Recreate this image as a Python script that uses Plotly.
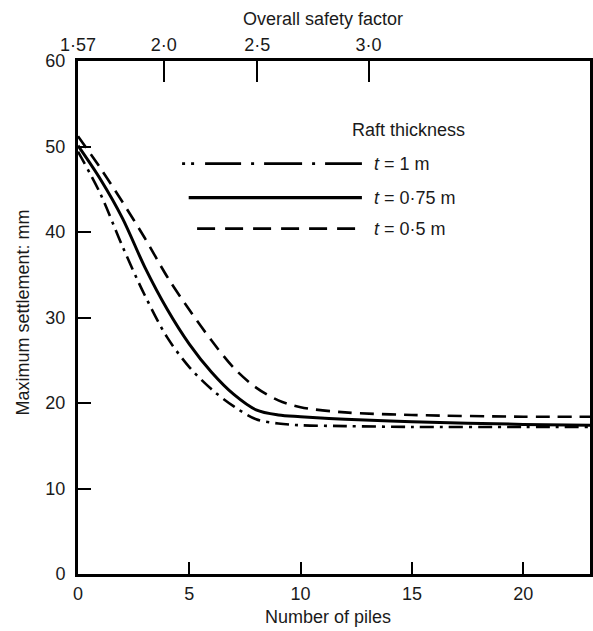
import plotly.graph_objects as go

# ---- data ----
piles = [0, 1, 2, 3, 4, 5, 6, 7, 8, 9, 10, 12, 15, 20, 23]

settle_t100 = [49.4, 44.5, 38.3, 32.6, 27.7, 24.2, 21.6, 19.6, 18.1, 17.6, 17.4, 17.3, 17.2, 17.2, 17.2]
settle_t075 = [50.1, 46.2, 41.6, 35.9, 31.0, 26.9, 23.6, 21.0, 19.2, 18.6, 18.4, 18.1, 17.8, 17.5, 17.4]
settle_t050 = [51.2, 47.5, 43.5, 39.3, 34.8, 30.9, 27.3, 24.1, 21.8, 20.3, 19.5, 18.9, 18.6, 18.4, 18.4]

series_labels = ["<i>t</i> = 1 m", "<i>t</i> = 0·75 m", "<i>t</i> = 0·5 m"]

x_ticks = [0, 5, 10, 15, 20]
y_ticks = [0, 10, 20, 30, 40, 50, 60]
sf_tick_pos = [0, 3.85, 8.05, 13.05]
sf_tick_text = ["1·57", "2·0", "2·5", "3·0"]

FONT = "Liberation Sans, Arial, sans-serif"
INK = "#1a1a1a"

fig = go.Figure()

curve_styles = [
    dict(dash="14px,6px,3px,6px", width=2.6),
    dict(dash="solid", width=3.0),
    dict(dash="14px,8px", width=2.6),
]
for ys, st in zip([settle_t100, settle_t075, settle_t050], curve_styles):
    fig.add_trace(go.Scatter(
        x=piles, y=ys, mode="lines",
        line=dict(color="black", width=st["width"], dash=st["dash"], shape="spline", smoothing=0.9),
        showlegend=False, hoverinfo="skip",
    ))

# invisible trace to activate the top axis
fig.add_trace(go.Scatter(x=piles, y=settle_t075, xaxis="x2", mode="lines",
                         line=dict(color="rgba(0,0,0,0)"), showlegend=False, hoverinfo="skip"))

axis_common = dict(showgrid=False, zeroline=False, showline=True, linecolor="black",
                   linewidth=3, ticks="inside", tickcolor="black", tickwidth=2,
                   automargin=False,
                   tickfont=dict(family=FONT, size=18, color=INK))

fig.update_layout(
    width=593, height=631,
    margin=dict(l=77.5, r=3, t=60.5, b=57),
    plot_bgcolor="white", paper_bgcolor="white",
    showlegend=False,
    xaxis=dict(range=[0, 23], tickvals=x_ticks, ticklen=12, ticklabelstandoff=1, **axis_common),
    xaxis2=dict(range=[0, 23], overlaying="x", side="top", anchor="y",
                tickvals=sf_tick_pos, ticktext=sf_tick_text, ticklen=21, **axis_common),
    yaxis=dict(range=[0, 60], tickvals=y_ticks, ticklen=13, mirror=True,
               ticklabelstandoff=6, **axis_common),
)

# ---- titles ----
ann = [
    dict(text="Number of piles", x=0.488, y=-0.084, xref="paper", yref="paper",
         xanchor="center", yanchor="middle", showarrow=False,
         font=dict(family=FONT, size=18, color=INK)),
    dict(text="Overall safety factor", x=0.478, y=1.0825, xref="paper", yref="paper",
         xanchor="center", yanchor="middle", showarrow=False,
         font=dict(family=FONT, size=18, color=INK)),
    dict(text="Maximum settlement: mm", x=-0.107, y=0.51, xref="paper", yref="paper",
         xanchor="center", yanchor="middle", textangle=-90, showarrow=False,
         font=dict(family=FONT, size=18, color=INK)),
    dict(text="Raft thickness", x=0.5317, y=0.8647, xref="paper", yref="paper",
         xanchor="left", yanchor="middle", showarrow=False,
         font=dict(family=FONT, size=18, color=INK)),
]

# ---- manual legend ----
leg_y = [0.7998, 0.7336, 0.6732]
leg_x0 = [0.2033, 0.2162, 0.2326]
leg_x1 = 0.5545
leg_dash = ["3px,6px,3px,11px,36px,10px,3px,10px,38px,10px,3px,10px,40px", "solid", "18px,10px"]
leg_w = [2.8, 3.4, 2.8]
shapes = []
for y, x0, d, w, lab in zip(leg_y, leg_x0, leg_dash, leg_w, series_labels):
    shapes.append(dict(type="line", xref="paper", yref="paper", x0=x0, x1=leg_x1, y0=y, y1=y,
                       line=dict(color="black", width=w, dash=d)))
    ann.append(dict(text=lab, x=0.574, y=y, xref="paper", yref="paper",
                    xanchor="left", yanchor="middle", showarrow=False,
                    font=dict(family=FONT, size=18, color=INK)))

fig.update_layout(annotations=ann, shapes=shapes)

fig.write_html("out.html", config={"displayModeBar": False},
               post_script="document.body.style.margin='0';")
